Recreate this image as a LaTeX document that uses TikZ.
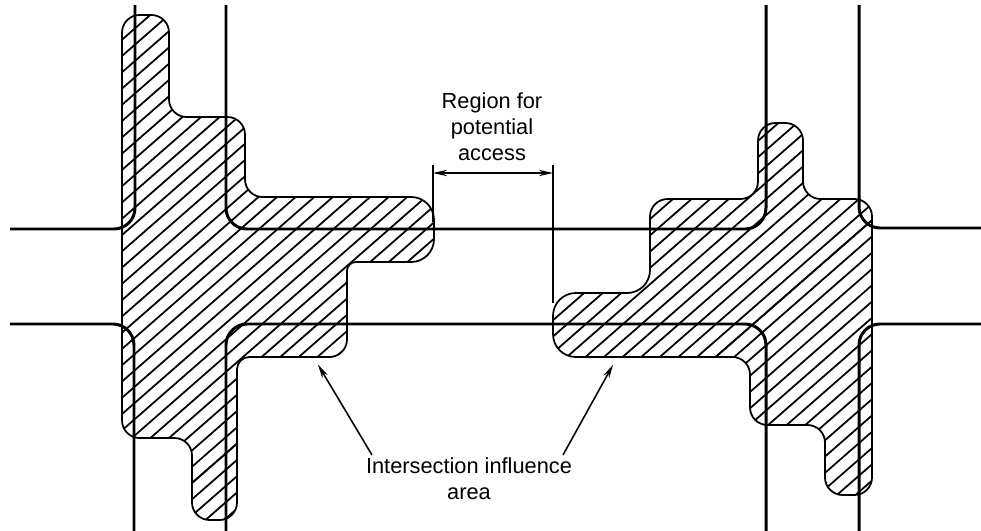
\documentclass[tikz,border=0pt]{standalone}
\usepackage{fontspec}
\setmainfont{Liberation Sans}
\usetikzlibrary{arrows.meta, positioning}

\def\leftzone{(122,100) -- (122,15) -- (169,15) -- (169,117) -- (245,117) -- (245,197) [rounded corners=13pt] -- (434,197) -- (434,262) [rounded corners=5pt] -- (347,262) [rounded corners=10pt] -- (347,357) [rounded corners=7pt] -- (237,357) [rounded corners=10pt] -- (237,520) -- (192,520) -- (192,438) -- (122,438) -- cycle}
\def\rightzone{(758,160) -- (758,123) -- (803,123) -- (803,199) -- (872,199) -- (872,495) -- (825,495) -- (825,425) -- (750,425) -- (750,357) [rounded corners=13pt] -- (553,357) -- (553,293) -- (650,293) [rounded corners=10pt] -- (650,199) -- (758,199) -- cycle}

\begin{document}
\begin{tikzpicture}
[
	x=0.02cm,y=-0.02cm,
	>={Stealth[length=8pt,width=3.6pt]},
	road/.style={line width=1.7pt,rounded corners=12pt},
	zone/.style={line width=1pt,rounded corners=10pt},
	hatch/.style={line width=1pt},
	dimline/.style={line width=0.8pt},
	pointer/.style={line width=0.9pt,->,shorten >=1pt},
	lbl/.style={font=\fontsize{12.4}{14.9}\selectfont,align=center,inner sep=0pt}
]
\useasboundingbox (0,0) rectangle (981,531);

\begin{scope}
\clip[rounded corners=10pt] \leftzone;
\foreach \i in {0,...,60} {
	\draw[hatch] (104+18.6*\i,560) -- ++(640,-560);
	\draw[hatch] (104-18.6*\i,560) -- ++(640,-560);
}
\end{scope}
\begin{scope}
\clip[rounded corners=10pt] \rightzone;
\foreach \i in {0,...,60} {
	\draw[hatch] (483.6+18.6*\i,560) -- ++(640,-560);
	\draw[hatch] (483.6-18.6*\i,560) -- ++(640,-560);
}
\end{scope}
\draw[zone] \leftzone;
\draw[zone] \rightzone;

\draw[road] (135,5) -- (135,229) -- (10,229);
\draw[road] (226,5) -- (226,229) -- (766,229) -- (766,5);
\draw[road] (859,5) -- (859,228) -- (981,228);
\draw[road] (10,324) -- (134,324) -- (134,531);
\draw[road] (226,531) -- (226,324) -- (766,324) -- (766,531);
\draw[road] (859,531) -- (859,324) -- (981,324);

\node[lbl] (access) at (492,127) {Region for\\potential\\access};
\node[lbl] (influence) at (469,479) {Intersection influence\\area};

\coordinate (al) at (433,173);
\coordinate (ar) at (553,173);
\coordinate (pl) at (317,363);
\coordinate (pr) at (614,363);
\coordinate (il) at (372,455);
\coordinate (ir) at (563,455);

\draw[dimline] (433,165) -- (433,222);
\draw[dimline] (553,165) -- (553,303);
\draw[dimline,<->] (al) -- (ar);

\draw[pointer] (il) -- (pl);
\draw[pointer] (ir) -- (pr);

\end{tikzpicture}
\end{document}
